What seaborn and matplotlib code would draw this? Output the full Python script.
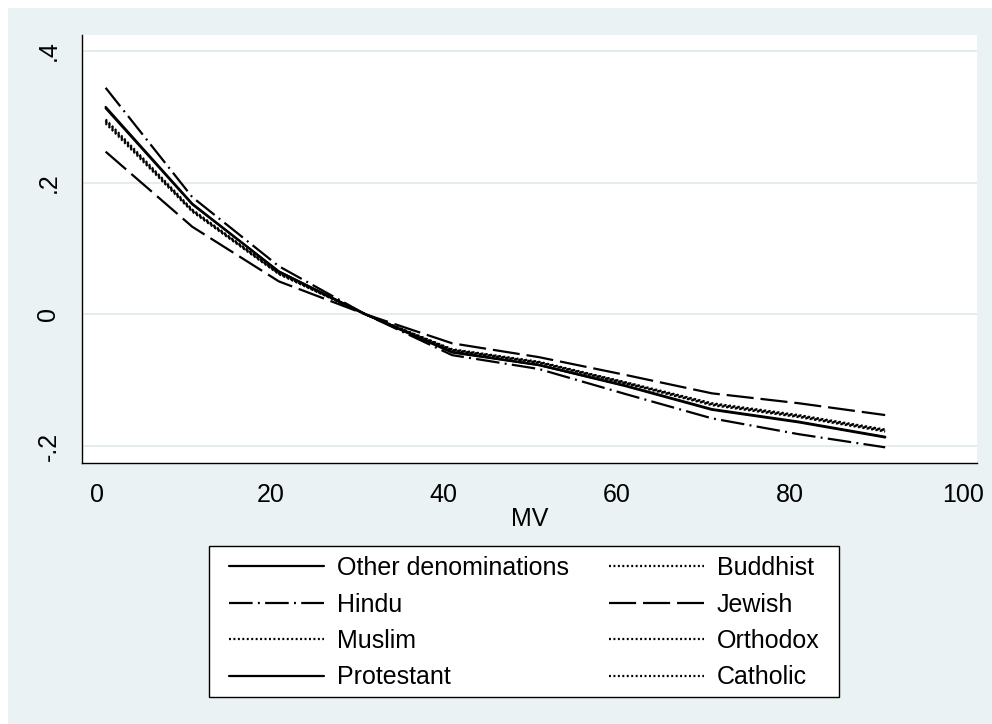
import matplotlib
matplotlib.use("Agg")
import matplotlib.pyplot as plt
import seaborn as sns
import pandas as pd
from matplotlib.patches import Rectangle

# ---- data ----
mv = [1, 11, 21, 31, 41, 51, 61, 71, 81, 91]
other_denom = [0.315, 0.168, 0.065, 0.0, -0.058, -0.077, -0.109, -0.145, -0.164, -0.187]
buddhist    = [0.294, 0.158, 0.062, 0.0, -0.054, -0.073, -0.104, -0.137, -0.155, -0.177]
hindu       = [0.344, 0.178, 0.073, 0.0, -0.062, -0.083, -0.121, -0.158, -0.182, -0.202]
jewish      = [0.247, 0.133, 0.050, 0.0, -0.044, -0.065, -0.092, -0.120, -0.135, -0.153]
muslim      = [0.290, 0.156, 0.061, 0.0, -0.053, -0.072, -0.103, -0.135, -0.153, -0.175]
orthodox    = [0.292, 0.157, 0.062, 0.0, -0.054, -0.073, -0.104, -0.136, -0.154, -0.176]
protestant  = [0.313, 0.167, 0.065, 0.0, -0.057, -0.077, -0.108, -0.144, -0.163, -0.186]
catholic    = [0.296, 0.159, 0.063, 0.0, -0.055, -0.074, -0.105, -0.138, -0.156, -0.178]

names = ["Other denominations", "Buddhist", "Hindu", "Jewish",
         "Muslim", "Orthodox", "Protestant", "Catholic"]
values = [other_denom, buddhist, hindu, jewish, muslim, orthodox, protestant, catholic]

x_ticks = [0, 20, 40, 60, 80, 100]
y_ticks = [-0.2, 0.0, 0.2, 0.4]
y_tick_labels = ["-.2", "0", ".2", ".4"]

# ---- style ----
sns.set_style("white")
plt.rcParams["font.family"] = ["Liberation Sans", "DejaVu Sans"]
plt.rcParams["text.color"] = "black"
plt.rcParams["lines.scale_dashes"] = False

SOLID = "-"
DASHDOT = (0, (17, 3.8, 1.4, 3.8))
LONGDASH = (0, (19.5, 5))
DOT = (0, (1.4, 1.8))
styles = {
    "Other denominations": SOLID,
    "Buddhist": DOT,
    "Hindu": DASHDOT,
    "Jewish": LONGDASH,
    "Muslim": DOT,
    "Orthodox": DOT,
    "Protestant": SOLID,
    "Catholic": DOT,
}

W, H = 992, 724
fig = plt.figure(figsize=(W / 100, H / 100), dpi=100)
fig.patch.set_facecolor("white")
bg = Rectangle((8 / W, 0), 1 - 8 / W, (H - 8) / H, transform=fig.transFigure,
               facecolor="#EAF2F3", edgecolor="none", zorder=-10)
fig.add_artist(bg)

ax = fig.add_axes([82 / W, 1 - 463 / H, (977 - 82) / W, (463 - 35) / H])
ax.set_facecolor("white")

for name, vals in zip(names, values):
    df = pd.DataFrame({"MV": mv, "y": vals})
    sns.lineplot(data=df, x="MV", y="y", ax=ax, color="black",
                 linestyle=styles[name], linewidth=1.6, label=name,
                 dash_capstyle="butt")

if ax.get_legend() is not None:
    ax.get_legend().remove()

ax.set_xlim(-1.73, 101.6)
ax.set_ylim(-0.2258, 0.4242)
ax.set_xticks(x_ticks)
ax.set_xticklabels([str(t) for t in x_ticks])
ax.set_yticks(y_ticks)
ax.set_yticklabels(y_tick_labels, rotation=90, va="center")
ax.yaxis.grid(True, color="#E2EBED", linewidth=1.3)
ax.xaxis.grid(False)
ax.set_axisbelow(True)

for s in ["top", "right"]:
    ax.spines[s].set_visible(False)
for s in ["left", "bottom"]:
    ax.spines[s].set_color("black")
    ax.spines[s].set_linewidth(1.0)

ax.tick_params(axis="both", direction="out", length=7.5, width=1.0,
               color="black", labelsize=18, labelcolor="black")
ax.tick_params(axis="x", pad=7.2)
ax.tick_params(axis="y", pad=8)
ax.set_xlabel("MV", fontsize=18, labelpad=0, color="black")
ax.set_ylabel("")

# legend frame
frame = Rectangle((209 / W, 1 - 697 / H), (839 - 209) / W, (697 - 546) / H,
                  transform=fig.transFigure, facecolor="white",
                  edgecolor="black", linewidth=1.0, zorder=1)
fig.add_artist(frame)

handles, labels = ax.get_legend_handles_labels()
hmap = dict(zip(labels, handles))
order = [names[0], names[2], names[4], names[6], names[1], names[3], names[5], names[7]]
fig.legend([hmap[n] for n in order], order, ncol=2, loc="upper left",
           bbox_to_anchor=(229 / W, 1 - 556 / H), bbox_transform=fig.transFigure,
           frameon=False, borderpad=0, borderaxespad=0, fontsize=18,
           handlelength=3.8, handletextpad=0.52, columnspacing=1.6,
           labelspacing=0.5, labelcolor="black")

fig.savefig("out.png", dpi=100, facecolor=fig.get_facecolor())
